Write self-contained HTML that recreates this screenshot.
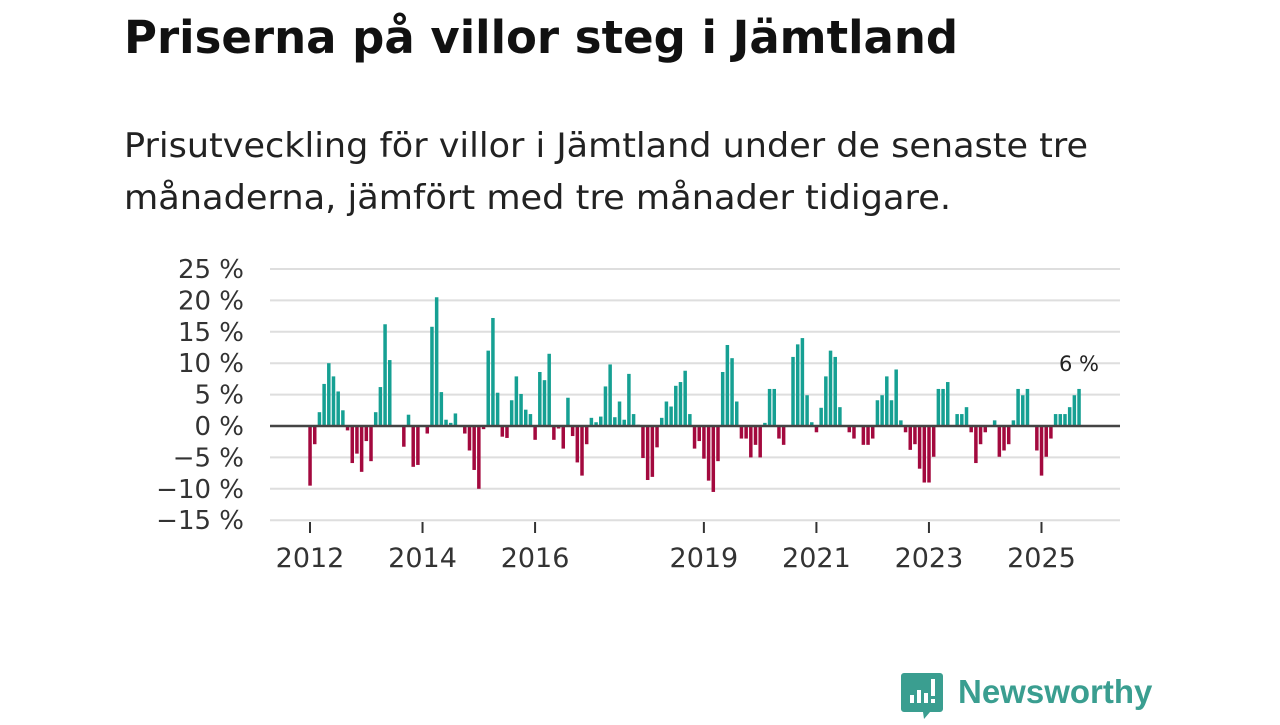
<!DOCTYPE html>
<html><head><meta charset="utf-8"><style>
body{margin:0;background:#fff;width:1280px;height:720px;overflow:hidden;font-family:"Liberation Sans",sans-serif}
</style></head><body>
<svg width="1280" height="720" font-family="'DejaVu Sans','Liberation Sans',sans-serif">
<text x="124" y="53" font-size="45" font-weight="bold" fill="#111">Priserna på villor steg i Jämtland</text>
<text x="124" y="157" font-size="34" fill="#222" textLength="964" lengthAdjust="spacingAndGlyphs">Prisutveckling för villor i Jämtland under de senaste tre</text>
<text x="124" y="209" font-size="34" fill="#222" textLength="827" lengthAdjust="spacingAndGlyphs">månaderna, jämfört med tre månader tidigare.</text>
<g id="grid"></g><g id="bars"></g><g id="xaxis"></g>
<text x="1079" y="371" font-size="21" fill="#222" text-anchor="middle">6 %</text>
<g>
<path d="M904 673 h36 a3 3 0 0 1 3 3 v33 a3 3 0 0 1 -3 3 h-10 l-6 7 l-1 -7 h-19 a3 3 0 0 1 -3 -3 v-33 a3 3 0 0 1 3 -3z" fill="#3a9e90"/>
<rect x="910" y="695" width="4" height="8" fill="#fff"/><rect x="917" y="690" width="4" height="13" fill="#fff"/><rect x="924" y="693" width="4" height="10" fill="#fff"/><rect x="931" y="679" width="4" height="17" fill="#fff"/><rect x="931" y="699" width="4" height="4" fill="#fff"/>
<text x="958" y="703" font-size="33" font-weight="bold" fill="#3a9e90" font-family="'Liberation Sans',sans-serif">Newsworthy</text>
</g>
</svg>
<script>
const values=[-9.5,-2.9,2.2,6.7,10,7.9,5.5,2.5,-0.7,-5.9,-4.4,-7.3,-2.4,-5.6,2.2,6.2,16.2,10.5,0,0,-3.3,1.8,-6.5,-6.2,0,-1.2,15.8,20.5,5.4,1,0.5,2,0,-1.2,-3.9,-7,-10,-0.5,12,17.2,5.3,-1.7,-1.9,4.1,7.9,5.1,2.6,1.9,-2.2,8.6,7.3,11.5,-2.2,-0.4,-3.6,4.5,-1.6,-5.8,-7.9,-2.9,1.3,0.6,1.5,6.3,9.8,1.4,3.9,1,8.3,1.9,0.2,-5.1,-8.6,-8.1,-3.4,1.3,3.9,3.1,6.4,7,8.8,1.9,-3.6,-2.4,-5.2,-8.7,-10.5,-5.6,8.6,12.9,10.8,3.9,-2,-2,-5,-3,-5,0.5,5.9,5.9,-2,-3,0,11,13,14,4.9,0.6,-1,2.9,7.9,12,11,3,0,-1,-2,0,-3,-3,-2,4.1,4.9,7.9,4.1,9,0.9,-1,-3.8,-2.9,-6.8,-9,-9,-4.9,5.9,5.9,7,0,1.9,1.9,3,-1,-5.9,-2.9,-1,0,0.9,-4.9,-3.9,-2.9,0.9,5.9,4.9,5.9,0,-3.9,-7.9,-4.9,-2,1.9,1.9,1.9,3,4.9,5.9];
const yTicks=[25,20,15,10,5,0,-5,-10,-15];
const yTickLabels=["25 %","20 %","15 %","10 %","5 %","0 %","−5 %","−10 %","−15 %"];
const xTickYears=[2012,2014,2016,2019,2021,2023,2025];
const startYear=2012;
const NS="http://www.w3.org/2000/svg";
const y=v=>426-v*6.28;
const x=i=>310+i*4.689;
function mk(t,a,p){const e=document.createElementNS(NS,t);for(const k in a)e.setAttribute(k,a[k]);p.appendChild(e);return e;}
const grid=document.getElementById('grid'),bars=document.getElementById('bars'),xa=document.getElementById('xaxis');
yTicks.forEach((v,i)=>{
 if(v!==0){const l=mk('line',{x1:270,x2:1120,y1:y(v),y2:y(v),stroke:'#dedede','stroke-width':2},grid);
 
 }
 const t=mk('text',{x:244,y:y(v)+9,'font-size':26,fill:'#333','text-anchor':'end'},grid);
 t.textContent=yTickLabels[i];
 
 
});
values.forEach((v,i)=>{
 if(v===0)return;
 const r=mk('rect',{x:x(i)-1.7,width:3.5,y:Math.min(y(v),y(0)),height:Math.abs(y(v)-y(0)),fill:v>0?'#16a093':'#a3093e'},bars);
 
 
});
const z=mk('line',{x1:270,x2:1120,y1:y(0),y2:y(0),stroke:'#444','stroke-width':2.5},bars);


xTickYears.forEach(yr=>{
 const xx=x((yr-startYear)*12);
 const tk=mk('line',{x1:xx,x2:xx,y1:522,y2:533,stroke:'#333','stroke-width':2},xa);
 
 
 const t=mk('text',{x:xx,y:567,'font-size':27,fill:'#333','text-anchor':'middle'},xa);
 t.textContent=yr;
 
 
});
</script>
</body></html>
